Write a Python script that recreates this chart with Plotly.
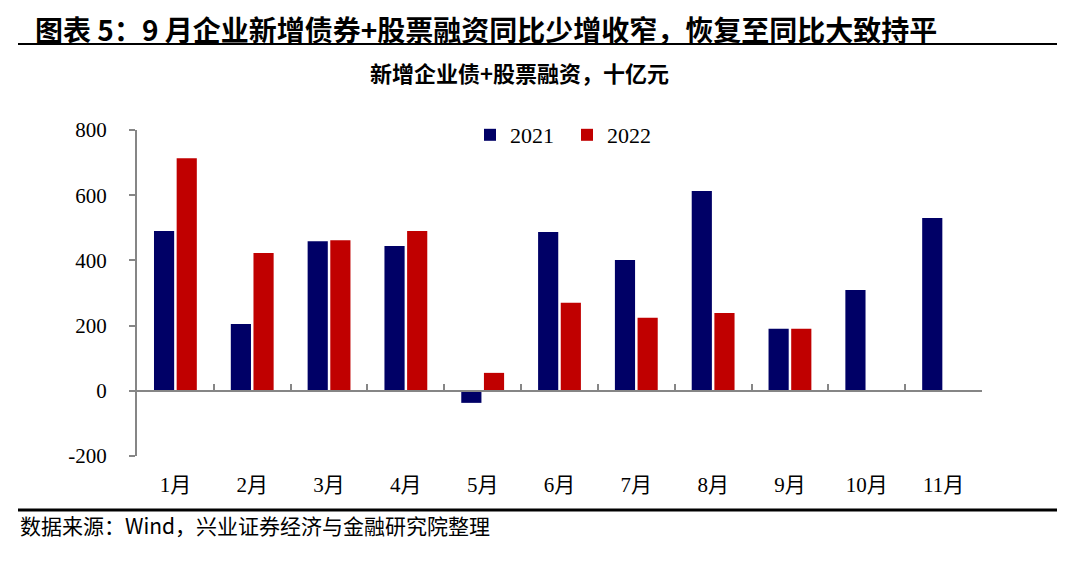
import plotly.graph_objects as go

categories = ["1月", "2月", "3月", "4月", "5月", "6月", "7月", "8月", "9月", "10月", "11月"]
values_2021 = [490, 205, 459, 444, -37, 487, 401, 613, 190, 309, 530]
values_2022 = [713, 423, 462, 490, 55, 270, 224, 239, 190, None, None]
y_ticks = [-200, 0, 200, 400, 600, 800]
y_tick_text = ["-200", "0", "200", "400", "600", "800"]

W, H = 1075, 563
L, R, T, B = 137, 982, 130, 456
ymin, ymax = -200, 800

def px_x(x):
    return (x - L) / (R - L)

def px_y(y):
    return (B - y) / (B - T)

serif = "Liberation Serif, Noto Sans CJK SC"
cjk = "Noto Sans CJK SC"

fig = go.Figure()
fig.add_trace(go.Bar(x=categories, y=values_2021, name="2021",
                     marker=dict(color="#000066", line=dict(width=0))))
fig.add_trace(go.Bar(x=categories, y=values_2022, name="2022",
                     marker=dict(color="#C00000", line=dict(width=0))))

n = len(categories)
zero_pos = (0 - ymin) / (ymax - ymin)

fig.update_layout(
    width=W, height=H,
    margin=dict(l=L, r=W - R, t=T, b=H - B),
    paper_bgcolor="white", plot_bgcolor="white",
    barmode="group", bargap=0.41, bargroupgap=0.11,
    showlegend=True,
    legend=dict(orientation="h", x=px_x(470), xanchor="left", y=px_y(114), yanchor="top",
                font=dict(family=serif, size=22, color="black"),
                itemwidth=30, entrywidth=52, entrywidthmode="pixels",
                bgcolor="rgba(0,0,0,0)"),
    xaxis=dict(type="category", range=[-0.5, n - 0.5], showline=False, ticks="",
               showgrid=False, zeroline=False,
               tickfont=dict(family=serif, size=21, color="black"),
               ticklabelstandoff=14),
    xaxis2=dict(overlaying="x", anchor="free", position=zero_pos, side="bottom",
                type="linear", range=[-0.5, n - 0.5],
                tickmode="array", tickvals=[i + 0.5 for i in range(n)],
                ticks="inside", ticklen=6, tickwidth=2, tickcolor="#868686",
                showline=True, linecolor="#868686", linewidth=2,
                showticklabels=False, showgrid=False, zeroline=False),
    yaxis=dict(range=[ymin, ymax], tickmode="array", tickvals=y_ticks, ticktext=y_tick_text,
               showline=True, linecolor="#868686", linewidth=2,
               ticks="outside", ticklen=6, tickwidth=2, tickcolor="#868686",
               showgrid=False, zeroline=False,
               tickfont=dict(family=serif, size=21, color="black"),
               ticklabelstandoff=18),
)

fig.add_trace(go.Scatter(x=[0], y=[0], xaxis="x2", mode="markers",
                         marker=dict(opacity=0), showlegend=False, hoverinfo="skip"))

fig.add_annotation(text="<b>图表 5：9 月企业新增债券+股票融资同比少增收窄，恢复至同比大致持平</b>",
                   xref="paper", yref="paper", x=px_x(33), y=px_y(29),
                   xanchor="left", yanchor="middle", showarrow=False,
                   font=dict(family=cjk, size=28, color="black"))
fig.add_annotation(text="<b>新增企业债+股票融资，十亿元</b>",
                   xref="paper", yref="paper", x=px_x(519), y=px_y(72),
                   xanchor="center", yanchor="middle", showarrow=False,
                   font=dict(family=cjk, size=22, color="black"))
fig.add_annotation(text="数据来源：Wind，兴业证券经济与金融研究院整理",
                   xref="paper", yref="paper", x=px_x(18), y=px_y(525),
                   xanchor="left", yanchor="middle", showarrow=False,
                   font=dict(family=cjk, size=21, color="black"))

fig.add_shape(type="line", xref="paper", yref="paper",
              x0=px_x(18), x1=px_x(1057), y0=px_y(44), y1=px_y(44),
              line=dict(color="black", width=2))
fig.add_shape(type="line", xref="paper", yref="paper",
              x0=px_x(18), x1=px_x(1057), y0=px_y(510), y1=px_y(510),
              line=dict(color="black", width=3))

fig.write_html("out.html", config={"displayModeBar": False},
               post_script="document.body.style.margin='0';")
